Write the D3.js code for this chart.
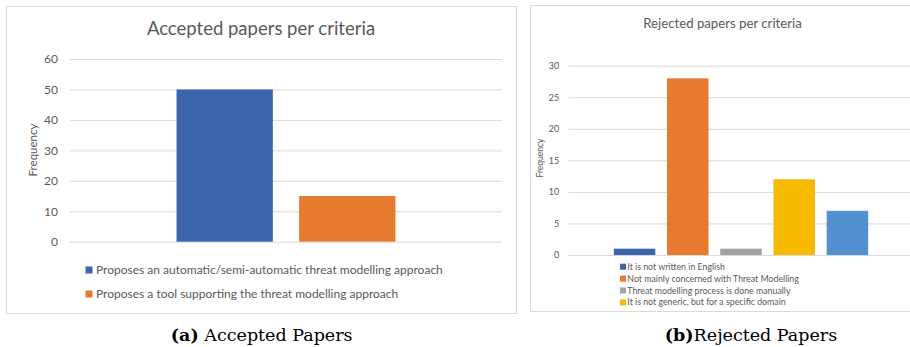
<!DOCTYPE html>
<html>
<head>
<meta charset="utf-8">
<script src="https://cdn.jsdelivr.net/npm/d3@7"></script>
<style>
  html, body { margin: 0; padding: 0; background: #fff; }
  svg { display: block; }
  .chart-text { font-family: Lato, "Open Sans", sans-serif; fill: #595959; }
  .caption { font-family: "DejaVu Serif", "Liberation Serif", serif; fill: #000; }
</style>
</head>
<body>
<svg id="fig" width="910" height="347"></svg>
<script>
// Accepted papers: one category, two criteria series
const acceptedSeries = [
  "Proposes an automatic/semi-automatic threat modelling approach",
  "Proposes a tool supporting the threat modelling approach"
];
const acceptedValues = [50, 15];
const acceptedColors = ["#3d65ae", "#e77a2f"];
const acceptedTicks = [0, 10, 20, 30, 40, 50, 60];

// Rejected papers: one category, five criteria series (last one has no legend row shown)
const rejectedSeries = [
  "It is not written in English",
  "Not mainly concerned with Threat Modelling",
  "Threat modelling process is done manually",
  "It is not generic, but for a specific  domain",
  ""
];
const rejectedValues = [1, 28, 1, 12, 7];
const rejectedColors = ["#3d65ae", "#e77a2f", "#a3a3a3", "#f6bb00", "#5291cf"];
const rejectedTicks = [0, 5, 10, 15, 20, 25, 30];

const captions = [
  { tag: "(a)", text: " Accepted Papers" },
  { tag: "(b)", text: "Rejected Papers" }
];

const svg = d3.select("#fig");

function drawPanel(cfg) {
  const g = svg.append("g");

  // chart-area frame
  g.append("rect")
    .attr("x", cfg.frame[0] + 0.5).attr("y", cfg.frame[1] + 0.5)
    .attr("width", cfg.frame[2]).attr("height", cfg.frame[3])
    .attr("fill", "#fff").attr("stroke", "#d9d9d9").attr("stroke-width", 1);

  const y = d3.scaleLinear().domain(cfg.yDomain).range(cfg.yRange);
  const x = d3.scaleBand().domain(d3.range(cfg.values.length))
    .range(cfg.xRange).paddingInner(cfg.padIn).paddingOuter(cfg.padOut);

  // horizontal gridlines via the axis generator
  const grid = d3.axisLeft(y).tickValues(cfg.ticks)
    .tickSize(-(cfg.xRange[1] - cfg.xRange[0])).tickFormat("");
  const gg = g.append("g").attr("transform", `translate(${cfg.xRange[0]},0)`).call(grid);
  gg.select(".domain").remove();
  gg.selectAll(".tick line").attr("stroke", "#d9d9d9").attr("stroke-width", 1);

  // tick labels
  const axis = d3.axisLeft(y).tickValues(cfg.ticks).tickSize(0).tickPadding(cfg.tickPad);
  const ag = g.append("g").attr("transform", `translate(${cfg.xRange[0]},0)`).call(axis);
  ag.select(".domain").remove();
  ag.selectAll("text")
    .attr("class", "chart-text")
    .style("font-size", cfg.tickSize + "px")
    .attr("fill", "#595959");

  // bars
  g.selectAll("rect.bar").data(cfg.values).join("rect")
    .attr("class", "bar")
    .attr("x", (d, i) => x(i))
    .attr("width", x.bandwidth())
    .attr("y", d => y(d))
    .attr("height", d => y(0) - y(d))
    .attr("fill", (d, i) => cfg.colors[i]);

  // title
  g.append("text").attr("class", "chart-text")
    .attr("x", cfg.titlePos[0]).attr("y", cfg.titlePos[1])
    .attr("text-anchor", "middle")
    .style("font-size", cfg.titleSize + "px")
    .text(cfg.title);

  // y-axis title
  g.append("text").attr("class", "chart-text")
    .attr("transform", `translate(${cfg.yTitlePos[0]},${cfg.yTitlePos[1]}) rotate(-90)`)
    .attr("text-anchor", "middle")
    .attr("dy", "0.35em")
    .style("font-size", cfg.yTitleSize + "px")
    .text("Frequency");

  // legend
  const entries = cfg.series.map((s, i) => ({ s, c: cfg.colors[i] })).filter(e => e.s !== "");
  const lg = g.selectAll("g.leg").data(entries).join("g")
    .attr("class", "leg")
    .attr("transform", (d, i) => `translate(${cfg.legend.x},${cfg.legend.y + i * cfg.legend.step})`);
  lg.append("rect")
    .attr("x", 0).attr("y", -cfg.legend.sw / 2)
    .attr("width", cfg.legend.sw).attr("height", cfg.legend.sw)
    .attr("fill", d => d.c);
  lg.append("text").attr("class", "chart-text")
    .attr("x", cfg.legend.tx).attr("dy", "0.35em")
    .style("font-size", cfg.legend.fs + "px")
    .text(d => d.s);
}

drawPanel({
  frame: [6, 6, 510, 307],
  title: "Accepted papers per criteria", titlePos: [261, 35], titleSize: 18.5,
  series: acceptedSeries, values: acceptedValues, colors: acceptedColors,
  ticks: acceptedTicks, yDomain: [0, 60], yRange: [241.7, 59],
  xRange: [70, 502], padIn: 0.2145, padOut: 0.869,
  tickPad: 12, tickSize: 12,
  yTitlePos: [33, 150], yTitleSize: 11.5,
  legend: { x: 85.5, y: 270, step: 24, sw: 7, tx: 10.5, fs: 12 }
});

drawPanel({
  frame: [530, 5, 400, 306],
  title: "Rejected papers per criteria", titlePos: [722.5, 28], titleSize: 13.2,
  series: rejectedSeries, values: rejectedValues, colors: rejectedColors,
  ticks: rejectedTicks, yDomain: [0, 30], yRange: [255, 65.7],
  xRange: [568.3, 913.7], padIn: 0.22, padOut: 0.855,
  tickPad: 9, tickSize: 9,
  yTitlePos: [540, 158], yTitleSize: 8.5,
  legend: { x: 620, y: 266.7, step: 11.9, sw: 6, tx: 7.3, fs: 8.8 }
});

// subfigure captions
const capPos = [[261.7, 341], [751, 341]];
captions.forEach((c, i) => {
  const t = svg.append("text").attr("class", "caption")
    .attr("x", capPos[i][0]).attr("y", capPos[i][1])
    .attr("text-anchor", "middle")
    .style("font-size", "17.5px");
  t.append("tspan").attr("font-weight", "bold").text(c.tag);
  t.append("tspan").text(c.text);
});
</script>
</body>
</html>
